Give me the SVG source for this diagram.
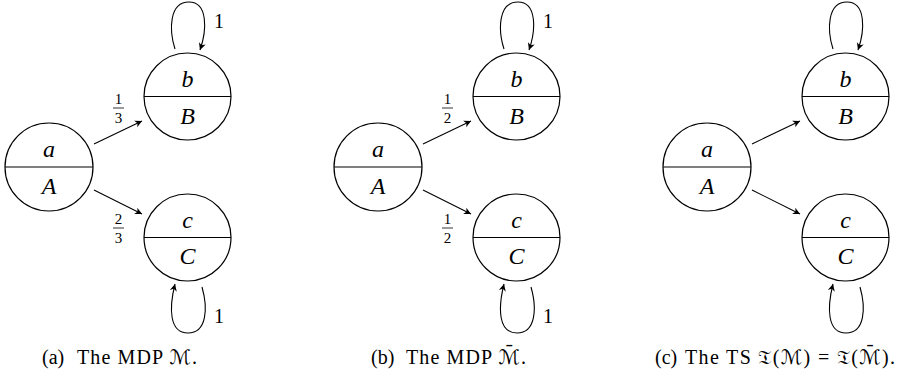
<svg xmlns="http://www.w3.org/2000/svg" width="900" height="383" viewBox="0 0 900 383">
<style>
.st{fill:#fff;stroke:#000;stroke-width:1.2}
.dv{stroke:#000;stroke-width:1.1}
.lb{font-family:"Liberation Serif","DejaVu Serif",serif;font-style:italic;font-size:24px;text-anchor:middle;fill:#000}
.num{font-family:"Liberation Serif","DejaVu Serif",serif;font-size:20px;text-anchor:middle;fill:#000}
.fr{font-family:"Liberation Serif","DejaVu Serif",serif;font-size:15px;text-anchor:middle;fill:#000}
.bar{stroke:#000;stroke-width:0.8}
.cap{font-family:"Liberation Serif","DejaVu Serif","DejaVu Sans",serif;font-size:20px;fill:#000}
.ed{fill:none;stroke:#000;stroke-width:1.1;marker-end:url(#tip)}
</style>
<defs>
<marker id="tip" markerUnits="userSpaceOnUse" markerWidth="10" markerHeight="10" viewBox="-8 -5 10 10" refX="0" refY="0" orient="auto" overflow="visible">
<path d="M0,0 L-7,-3.6 L-5,0 L-7,3.6 Z" fill="#000"/>
</marker>
</defs>

<!-- Panel (a) -->
<g id="panel-a">
<g id="connectors-a">
<line class="ed" x1="94" y1="144" x2="142" y2="121"/>
<line class="ed" x1="94" y1="190" x2="142" y2="214"/>
<path class="ed" d="M175,49 C169,30 169,2 189,2 C208,2 207,30 200,50"/>
<path class="ed" d="M202,287 C208,308 207,333 188,333 C169,333 169,308 175,284"/>
<text class="fr" x="118.5" y="104">1</text><line class="bar" x1="113" y1="108" x2="124" y2="108"/><text class="fr" x="118.5" y="123">3</text>
<text class="fr" x="118.5" y="224">2</text><line class="bar" x1="113" y1="228" x2="124" y2="228"/><text class="fr" x="118.5" y="243">3</text>
<text class="num" x="219" y="28">1</text>
<text class="num" x="219" y="323">1</text>
</g>
<g id="a-node-a"><circle class="st" cx="49" cy="167" r="44"/><line class="dv" x1="5" y1="167" x2="93" y2="167"/><text class="lb" x="49" y="157">a</text><text class="lb" x="49" y="194">A</text></g>
<g id="a-node-b"><circle class="st" cx="187.5" cy="96.5" r="43.5"/><line class="dv" x1="144" y1="96.5" x2="231" y2="96.5"/><text class="lb" x="187.5" y="87">b</text><text class="lb" x="187.5" y="124">B</text></g>
<g id="a-node-c"><circle class="st" cx="187.5" cy="237.5" r="43.5"/><line class="dv" x1="144" y1="237.5" x2="231" y2="237.5"/><text class="lb" x="187.5" y="227.5">c</text><text class="lb" x="187.5" y="264">C</text></g>
<text class="cap" x="42" y="364">(a)</text>
<text class="cap" x="77" y="364" textLength="120" lengthAdjust="spacing">The MDP ℳ.</text>
</g>

<!-- Panel (b) -->
<g id="panel-b" transform="translate(329,0)">
<g id="connectors-b">
<line class="ed" x1="94" y1="144" x2="142" y2="121"/>
<line class="ed" x1="94" y1="190" x2="142" y2="214"/>
<path class="ed" d="M175,49 C169,30 169,2 189,2 C208,2 207,30 200,50"/>
<path class="ed" d="M202,287 C208,308 207,333 188,333 C169,333 169,308 175,284"/>
<text class="fr" x="118.5" y="104">1</text><line class="bar" x1="113" y1="108" x2="124" y2="108"/><text class="fr" x="118.5" y="123">2</text>
<text class="fr" x="118.5" y="224">1</text><line class="bar" x1="113" y1="228" x2="124" y2="228"/><text class="fr" x="118.5" y="243">2</text>
<text class="num" x="219" y="28">1</text>
<text class="num" x="219" y="323">1</text>
</g>
<g id="b-node-a"><circle class="st" cx="49" cy="167" r="44"/><line class="dv" x1="5" y1="167" x2="93" y2="167"/><text class="lb" x="49" y="157">a</text><text class="lb" x="49" y="194">A</text></g>
<g id="b-node-b"><circle class="st" cx="187.5" cy="96.5" r="43.5"/><line class="dv" x1="144" y1="96.5" x2="231" y2="96.5"/><text class="lb" x="187.5" y="87">b</text><text class="lb" x="187.5" y="124">B</text></g>
<g id="b-node-c"><circle class="st" cx="187.5" cy="237.5" r="43.5"/><line class="dv" x1="144" y1="237.5" x2="231" y2="237.5"/><text class="lb" x="187.5" y="227.5">c</text><text class="lb" x="187.5" y="264">C</text></g>
<text class="cap" x="42" y="364">(b)</text>
<text class="cap" x="77" y="364" textLength="120" lengthAdjust="spacing">The MDP ℳ̄.</text>
</g>

<!-- Panel (c) -->
<g id="panel-c" transform="translate(658,0)">
<g id="connectors-c">
<line class="ed" x1="94" y1="144" x2="142" y2="121"/>
<line class="ed" x1="94" y1="190" x2="142" y2="214"/>
<path class="ed" d="M175,49 C169,30 169,2 189,2 C208,2 207,30 200,50"/>
<path class="ed" d="M202,287 C208,308 207,333 188,333 C169,333 169,308 175,284"/>
</g>
<g id="c-node-a"><circle class="st" cx="49" cy="167" r="44"/><line class="dv" x1="5" y1="167" x2="93" y2="167"/><text class="lb" x="49" y="157">a</text><text class="lb" x="49" y="194">A</text></g>
<g id="c-node-b"><circle class="st" cx="187.5" cy="96.5" r="43.5"/><line class="dv" x1="144" y1="96.5" x2="231" y2="96.5"/><text class="lb" x="187.5" y="87">b</text><text class="lb" x="187.5" y="124">B</text></g>
<g id="c-node-c"><circle class="st" cx="187.5" cy="237.5" r="43.5"/><line class="dv" x1="144" y1="237.5" x2="231" y2="237.5"/><text class="lb" x="187.5" y="227.5">c</text><text class="lb" x="187.5" y="264">C</text></g>
<text class="cap" x="-3" y="364">(c)</text>
<text class="cap" x="27" y="364" textLength="210" lengthAdjust="spacing">The TS 𝔗(ℳ) = 𝔗(ℳ̄).</text>
</g>
</svg>
